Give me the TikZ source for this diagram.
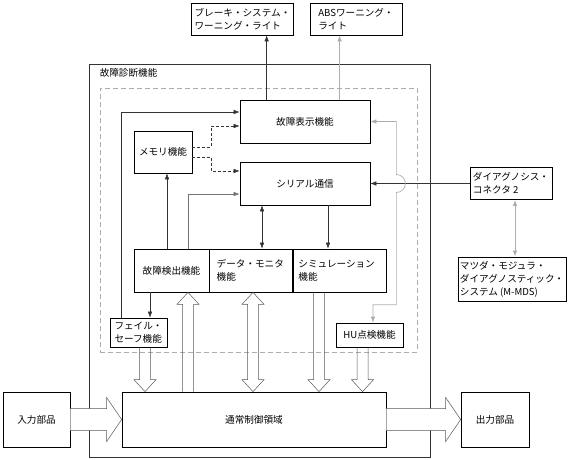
\documentclass[tikz,border=0pt]{standalone}
\usepackage{fontspec}
\setmainfont{Noto Sans CJK JP}
\usetikzlibrary{arrows.meta,calc,positioning}
\definecolor{darkline}{rgb}{0.2,0.2,0.2}
\definecolor{lightline}{rgb}{0.68,0.68,0.68}

\tikzset{
  block/.style={draw=black,line width=0.7pt,fill=white,inner sep=3pt,align=left},
  link/.style={draw=darkline,line width=0.5pt},
  graylink/.style={draw=lightline,line width=0.7pt},
  hollow/.style={draw=black!65,line width=0.5pt,fill=white},
  hollowv/.style={draw=black!65,line width=0.5pt}
}
% hollow block arrows, #1 = x position
\newcommand{\arrdown}[3]{%
  \draw[hollowv] let \p1=(#2.south), \p2=(#3.north) in
    ({#1pt-5.5pt},\y1) -- ({#1pt-5.5pt},{\y2+12pt}) -- ({#1pt-11pt},{\y2+12pt})
    -- (#1pt,\y2) -- ({#1pt+11pt},{\y2+12pt}) -- ({#1pt+5.5pt},{\y2+12pt}) -- ({#1pt+5.5pt},\y1);
}
\newcommand{\arrup}[3]{%
  \draw[hollowv] let \p1=(#2.north), \p2=(#3.south) in
    ({#1pt-5.5pt},\y1) -- ({#1pt-5.5pt},{\y2-12pt}) -- ({#1pt-11pt},{\y2-12pt})
    -- (#1pt,\y2) -- ({#1pt+11pt},{\y2-12pt}) -- ({#1pt+5.5pt},{\y2-12pt}) -- ({#1pt+5.5pt},\y1);
}
\newcommand{\arrboth}[3]{%
  \draw[hollowv] let \p1=(#2.south), \p2=(#3.north) in
    (#1pt,\y1) -- ({#1pt-11pt},{\y1-12pt}) -- ({#1pt-5.5pt},{\y1-12pt}) -- ({#1pt-5.5pt},{\y2+12pt})
    -- ({#1pt-11pt},{\y2+12pt}) -- (#1pt,\y2) -- ({#1pt+11pt},{\y2+12pt}) -- ({#1pt+5.5pt},{\y2+12pt})
    -- ({#1pt+5.5pt},{\y1-12pt}) -- ({#1pt+11pt},{\y1-12pt}) -- cycle;
}
\newcommand{\arrright}[2]{%
  \draw[hollow] let \p1=(#1.east), \p2=(#2.west) in
    (\x1,{\y1+11pt}) -- ({\x2-15pt},{\y1+11pt}) -- ({\x2-15pt},{\y1+22pt}) -- (\x2,\y1)
    -- ({\x2-15pt},{\y1-22pt}) -- ({\x2-15pt},{\y1-11pt}) -- (\x1,{\y1-11pt});
}

\begin{document}
\begin{tikzpicture}[x=1pt,y=-1pt,>={Latex[length=6pt,width=4.5pt]},font=\fontsize{9.6}{13}\selectfont]
\useasboundingbox (0,0) rectangle (578,460);

\node[draw=darkline,line width=0.9pt,minimum width=341,minimum height=393] (diag) at (259.5,260.5) {};
\node[below right=5pt and 11pt of diag.north west,inner sep=0] (title) {故障診断機能};
\node[draw=lightline,line width=0.9pt,dash pattern=on 5pt off 3pt,minimum width=317,minimum height=264] (dash) at (258.5,220) {};

\node[block,minimum width=101,minimum height=32] (brake) at (242.5,19) {ブレーキ・システム・\\ワーニング・ライト};
\node[block,minimum width=92,minimum height=32] (abs) at (356,19) {ABSワーニング・\\ライト};

\node[block,minimum width=130,minimum height=43] (disp) at (305,121.5) {故障表示機能};
\node[block,minimum width=130,minimum height=43] (serial) at (305,183.5) {シリアル通信};
\node[block,minimum width=58,minimum height=42] (mem) at (163,152) {メモリ機能};

\node[block,minimum width=75,minimum height=43] (det) at (171.5,270.5) {故障検出機能};
\node[block,minimum height=43,inner xsep=7pt,text width=69,right=0pt of det] (mon) {データ・モニタ\\機能};
\node[block,minimum height=43,inner xsep=5pt,text width=83,right=0pt of mon] (sim) {シミュレーション\\機能};

\node[block,minimum width=57,minimum height=29] (fs) at (138.5,332.5) {フェイル・\\セーフ機能};
\node[block,minimum width=67,minimum height=24] (hu) at (369.5,335) {HU点検機能};

\node[block,minimum width=264,minimum height=55] (ctrl) at (254,419.5) {通常制御領域};
\node[block,minimum width=67,minimum height=55] (in) at (36.5,419.5) {入力部品};
\node[block,minimum width=68,minimum height=55] (out) at (495,419.5) {出力部品};

\node[block,minimum width=78,minimum height=32] (conn) at (511,183.5) {ダイアグノシス・\\コネクタ 2};
\node[block,inner xsep=2pt,minimum width=108,minimum height=44] (mmds) at (512,279) {マツダ・モジュラ・\\ダイアグノスティック・\\システム (M-MDS)};

% to the warning lights
\coordinate (w1) at ([xshift=27]disp.north west);
\coordinate (w2) at ([xshift=100]disp.north west);
\draw[link,->] (w1) -- (w1 |- brake.south);
\draw[graylink,->] (w2) -- (w2 |- abs.south);

\draw[link,->] ([xshift=-17.5]fs.north) |- ([yshift=9.5]disp.west);
\draw[link,densely dashed,->] ([yshift=5]mem.east) -- ++(19,0) |- ([yshift=-4.5]disp.west);
\draw[link,densely dashed,->] ([yshift=-5]mem.east) -- ++(19,0) |- ([yshift=12.5]serial.west);

\coordinate (d1) at ([xshift=-4.5]det.north);
\coordinate (d2) at ([xshift=-21.5]det.south);
\coordinate (s1) at ([xshift=-43]serial.south);
\coordinate (s2) at ([xshift=23]serial.south);
\draw[link,->] (d1) -- (d1 |- mem.south);
\draw[draw=black!55,line width=0.6pt,->] ([xshift=16.5]det.north) |- ([yshift=-10.5]serial.west);
\draw[link,<->] (s1) -- (s1 |- mon.north);
\draw[link,->] (s2) -- (s2 |- sim.north);
\draw[link,->] (d2) -- (d2 |- fs.north);

\draw[link,->] (conn.west) -- (serial.east);
\coordinate (c1) at ([xshift=4]conn.south);
\draw[graylink,line width=1pt,<->] (c1) -- (c1 |- mmds.north);

\draw[graylink,<->] (disp.east) -- ++(26,0) coordinate (hop)
  -- ($(hop |- serial.east)+(0,-9)$) arc[start angle=90,end angle=-90,radius=9pt]
  -- ($(hop |- hu.north)+(0,-18)$) -| ([xshift=3.5]hu.north);

\arrdown{145}{fs}{ctrl}
\arrup{188}{ctrl}{det}
\arrboth{253}{mon}{ctrl}
\arrdown{319}{sim}{ctrl}
\arrdown{362.5}{hu}{ctrl}
\arrright{in}{ctrl}
\arrright{ctrl}{out}
\end{tikzpicture}
\end{document}
